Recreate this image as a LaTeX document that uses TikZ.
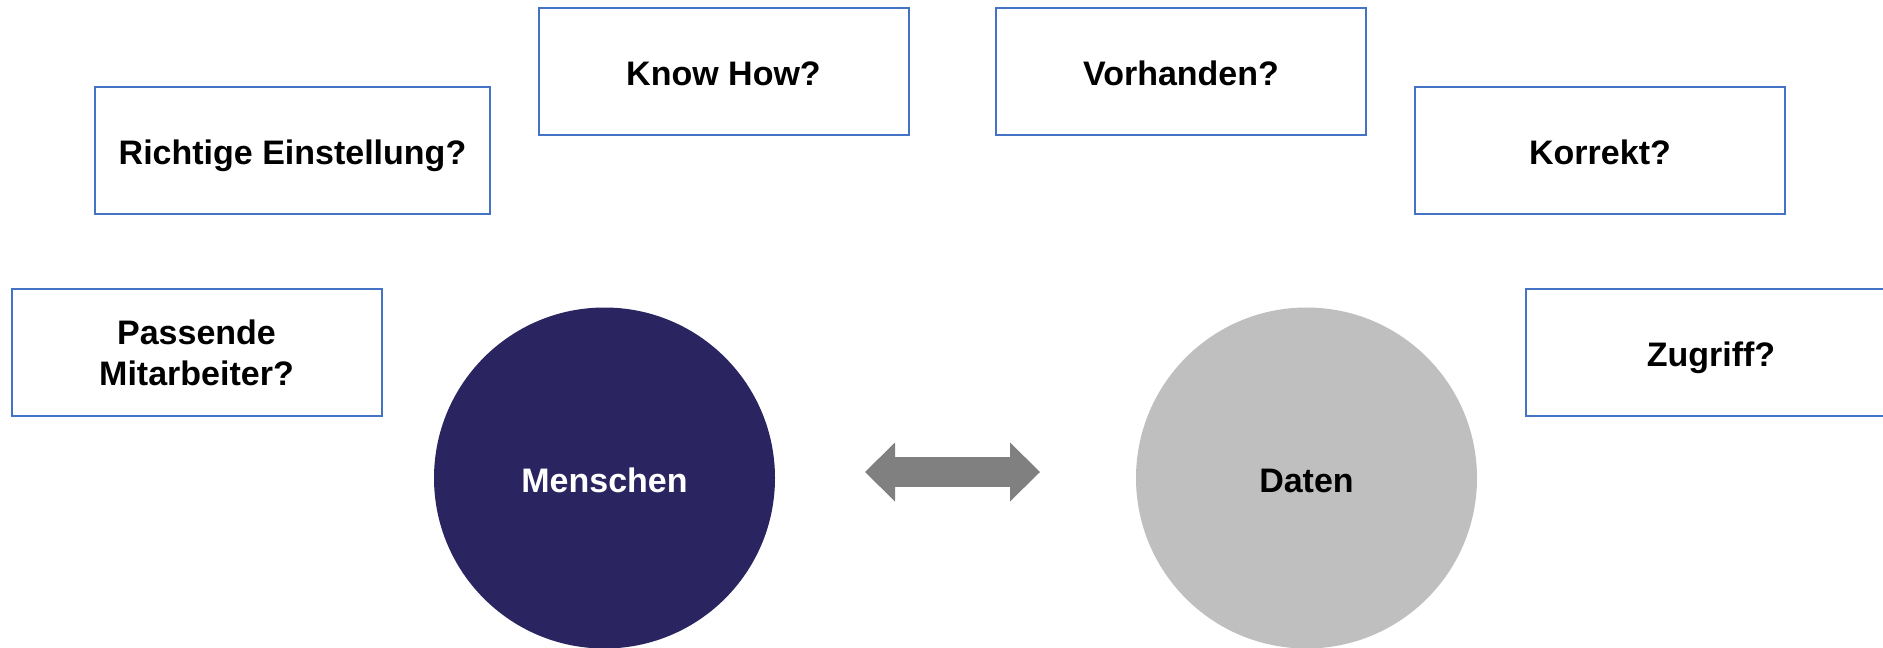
\documentclass[tikz,border=0pt]{standalone}
\usepackage{fontspec}
\setmainfont{Liberation Sans}
\usepackage{xcolor}
\usepackage{tikz}
\usetikzlibrary{positioning}
\usetikzlibrary{arrows.meta}
\pgfdeclarelayer{nodelayer}
\pgfdeclarelayer{edgelayer}
\pgfsetlayers{nodelayer,edgelayer,main}
\definecolor{boxblue}{HTML}{4472C4}
\definecolor{navy}{HTML}{2A2560}
\definecolor{lightgrey}{HTML}{BFBFBF}
\definecolor{arrowgrey}{HTML}{808080}
\tikzset{
    none/.style = {inner sep=0pt},
    oneline/.style = {text height=28pt, text depth=0pt},
    question/.style = {draw=boxblue, line width=2pt, fill=white, rectangle,
        minimum width=370pt, minimum height=127pt, inner sep=0pt, align=center,
        font=\fontsize{34}{41}\selectfont\bfseries},
    topic/.style = {circle, minimum size=341pt, inner sep=0pt, oneline,
        font=\fontsize{34}{41}\selectfont\bfseries},
    both ways/.style = {draw=arrowgrey, line width=30pt,
        {Triangle[length=30pt,width=59pt,line width=0pt]}-{Triangle[length=30pt,width=59pt,line width=0pt]}}
}
\begin{document}
\begin{tikzpicture}[x=1pt, y=-1pt]
  \useasboundingbox (0, 0) rectangle (1883, 648);
  \begin{pgfonlayer}{nodelayer}
    \node [style=question] (0) at (196.5, 352.5) {Passende\\Mitarbeiter?};
    \node [style=question, oneline, minimum width=395pt] (1) at (292.5, 150.5) {Richtige Einstellung?};
    \node [style=question, oneline] (2) at (723.5, 71.5) {Know How?};
    \node [style=question, oneline] (3) at (1181, 71.5) {Vorhanden?};
    \node [style=question, oneline] (4) at (1600, 150.5) {Korrekt?};
    \node [style=question, oneline] (5) at (1711, 352.5) {Zugriff?};
    \node [style=topic, fill=navy, text=white] (6) at (604.5, 478) {Menschen};
    \node [style=topic, fill=lightgrey] (7) at (1306.5, 478) {Daten};
    \node [style=none] (8) at (865, 472) {};
    \node [style=none] (9) at (1040, 472) {};
  \end{pgfonlayer}
  \begin{pgfonlayer}{edgelayer}
    \draw [style=both ways] (8.center) to (9.center);
  \end{pgfonlayer}
\end{tikzpicture}
\end{document}
